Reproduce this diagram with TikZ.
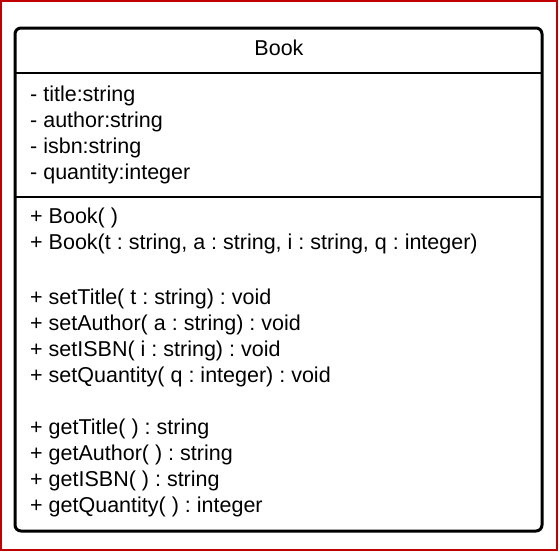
\documentclass[tikz,border=0pt]{standalone}
\usepackage{fontspec}
\setmainfont{Liberation Sans}
\frenchspacing
\begin{document}
\begin{tikzpicture}[x=1pt,y=-1pt,
  member/.style={anchor=base west,inner sep=0pt,font=\fontsize{21.5}{26}\selectfont},
  classbox/.style={line width=3pt,rounded corners=6pt}]
  \useasboundingbox (0,0) rectangle (560,552);
  % frame round the screenshot
  \draw[red!75!black,line width=2pt] (1,1) rectangle (557,550);
  % class box
  \draw[classbox] (15,28) rectangle (542,531);
  \coordinate (headL) at (15,73);
  \coordinate (headR) at (542,73);
  \coordinate (attrL) at (15,197);
  \coordinate (attrR) at (542,197);
  \draw[line width=2.5pt] (headL) -- (headR);
  \draw[line width=2.5pt] (attrL) -- (attrR);
  \node[anchor=base,inner sep=0pt,font=\fontsize{21.5}{26}\selectfont] (name) at (279,55) {Book};
  % attributes
  \node[member] (title) at (30,101) {- title:string};
  \node[member] (author) at (30,127) {- author:string};
  \node[member] (isbn) at (30,153) {- isbn:string};
  \node[member] (qty) at (30,179) {- quantity:integer};
  % operations
  \node[member] (ctor) at (30,223) {+ Book( )};
  \node[member] (ctorargs) at (30,249) {+ Book(t : string, a : string, i : string, q : integer)};
  \node[member] (settitle) at (30,304) {+ setTitle( t : string) : void};
  \node[member] (setauthor) at (30,330) {+ setAuthor( a : string) : void};
  \node[member] (setisbn) at (30,356) {+ setISBN( i : string) : void};
  \node[member] (setqty) at (30,382) {+ setQuantity( q : integer) : void};
  \node[member] (gettitle) at (30,434) {+ getTitle( ) : string};
  \node[member] (getauthor) at (30,460) {+ getAuthor( ) : string};
  \node[member] (getisbn) at (30,486) {+ getISBN( ) : string};
  \node[member] (getqty) at (30,512) {+ getQuantity( ) : integer};
\end{tikzpicture}
\end{document}
